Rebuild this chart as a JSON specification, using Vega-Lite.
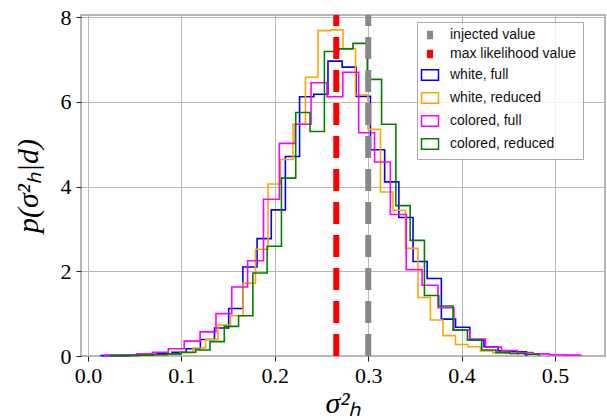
{
  "$schema": "https://vega.github.io/schema/vega-lite/v6.json",
  "width": 524,
  "height": 341,
  "autosize": {"type": "none"},
  "padding": {"left": 81, "top": 15, "right": 2, "bottom": 63},
  "background": "white",
  "datasets": {
    "hist": [
      {"s":"white, full","i":0,"x":0.0140,"y":0},
      {"s":"white, full","i":1,"x":0.0140,"y":0.01},
      {"s":"white, full","i":2,"x":0.0292,"y":0.01},
      {"s":"white, full","i":3,"x":0.0444,"y":0.02},
      {"s":"white, full","i":4,"x":0.0595,"y":0.04},
      {"s":"white, full","i":5,"x":0.0747,"y":0.05},
      {"s":"white, full","i":6,"x":0.0899,"y":0.09},
      {"s":"white, full","i":7,"x":0.1051,"y":0.17},
      {"s":"white, full","i":8,"x":0.1203,"y":0.39},
      {"s":"white, full","i":9,"x":0.1354,"y":0.66},
      {"s":"white, full","i":10,"x":0.1506,"y":1.12},
      {"s":"white, full","i":11,"x":0.1658,"y":2.10},
      {"s":"white, full","i":12,"x":0.1810,"y":2.77},
      {"s":"white, full","i":13,"x":0.1962,"y":3.45},
      {"s":"white, full","i":14,"x":0.2113,"y":4.71},
      {"s":"white, full","i":15,"x":0.2265,"y":6.12},
      {"s":"white, full","i":16,"x":0.2417,"y":6.18},
      {"s":"white, full","i":17,"x":0.2569,"y":6.96},
      {"s":"white, full","i":18,"x":0.2721,"y":6.82},
      {"s":"white, full","i":19,"x":0.2872,"y":6.13},
      {"s":"white, full","i":20,"x":0.3024,"y":4.87},
      {"s":"white, full","i":21,"x":0.3176,"y":4.11},
      {"s":"white, full","i":22,"x":0.3328,"y":3.27},
      {"s":"white, full","i":23,"x":0.3480,"y":2.23},
      {"s":"white, full","i":24,"x":0.3631,"y":1.83},
      {"s":"white, full","i":25,"x":0.3783,"y":0.87},
      {"s":"white, full","i":26,"x":0.3935,"y":0.68},
      {"s":"white, full","i":27,"x":0.4087,"y":0.38},
      {"s":"white, full","i":28,"x":0.4239,"y":0.22},
      {"s":"white, full","i":29,"x":0.4390,"y":0.12},
      {"s":"white, full","i":30,"x":0.4542,"y":0.10},
      {"s":"white, full","i":31,"x":0.4694,"y":0},
      {"s":"white, reduced","i":0,"x":0.0589,"y":0},
      {"s":"white, reduced","i":1,"x":0.0589,"y":0.02},
      {"s":"white, reduced","i":2,"x":0.0723,"y":0.02},
      {"s":"white, reduced","i":3,"x":0.0857,"y":0.04},
      {"s":"white, reduced","i":4,"x":0.0990,"y":0.08},
      {"s":"white, reduced","i":5,"x":0.1124,"y":0.19},
      {"s":"white, reduced","i":6,"x":0.1258,"y":0.39},
      {"s":"white, reduced","i":7,"x":0.1392,"y":0.73},
      {"s":"white, reduced","i":8,"x":0.1526,"y":0.95},
      {"s":"white, reduced","i":9,"x":0.1659,"y":1.72},
      {"s":"white, reduced","i":10,"x":0.1793,"y":2.52},
      {"s":"white, reduced","i":11,"x":0.1927,"y":4.06},
      {"s":"white, reduced","i":12,"x":0.2061,"y":4.64},
      {"s":"white, reduced","i":13,"x":0.2195,"y":5.47},
      {"s":"white, reduced","i":14,"x":0.2328,"y":6.58},
      {"s":"white, reduced","i":15,"x":0.2462,"y":7.68},
      {"s":"white, reduced","i":16,"x":0.2596,"y":7.70},
      {"s":"white, reduced","i":17,"x":0.2730,"y":7.26},
      {"s":"white, reduced","i":18,"x":0.2864,"y":6.16},
      {"s":"white, reduced","i":19,"x":0.2997,"y":5.35},
      {"s":"white, reduced","i":20,"x":0.3131,"y":3.87},
      {"s":"white, reduced","i":21,"x":0.3265,"y":3.44},
      {"s":"white, reduced","i":22,"x":0.3399,"y":2.54},
      {"s":"white, reduced","i":23,"x":0.3533,"y":1.38},
      {"s":"white, reduced","i":24,"x":0.3666,"y":0.85},
      {"s":"white, reduced","i":25,"x":0.3800,"y":0.48},
      {"s":"white, reduced","i":26,"x":0.3934,"y":0.27},
      {"s":"white, reduced","i":27,"x":0.4068,"y":0.22},
      {"s":"white, reduced","i":28,"x":0.4202,"y":0.12},
      {"s":"white, reduced","i":29,"x":0.4335,"y":0.08},
      {"s":"white, reduced","i":30,"x":0.4469,"y":0.06},
      {"s":"white, reduced","i":31,"x":0.4603,"y":0},
      {"s":"colored, full","i":0,"x":0.0181,"y":0},
      {"s":"colored, full","i":1,"x":0.0181,"y":0.02},
      {"s":"colored, full","i":2,"x":0.0351,"y":0.03},
      {"s":"colored, full","i":3,"x":0.0521,"y":0.05},
      {"s":"colored, full","i":4,"x":0.0690,"y":0.09},
      {"s":"colored, full","i":5,"x":0.0860,"y":0.17},
      {"s":"colored, full","i":6,"x":0.1030,"y":0.35},
      {"s":"colored, full","i":7,"x":0.1200,"y":0.57},
      {"s":"colored, full","i":8,"x":0.1370,"y":1.00},
      {"s":"colored, full","i":9,"x":0.1539,"y":1.63},
      {"s":"colored, full","i":10,"x":0.1709,"y":2.25},
      {"s":"colored, full","i":11,"x":0.1879,"y":3.70},
      {"s":"colored, full","i":12,"x":0.2049,"y":5.02},
      {"s":"colored, full","i":13,"x":0.2219,"y":5.47},
      {"s":"colored, full","i":14,"x":0.2388,"y":6.45},
      {"s":"colored, full","i":15,"x":0.2558,"y":6.12},
      {"s":"colored, full","i":16,"x":0.2728,"y":6.70},
      {"s":"colored, full","i":17,"x":0.2898,"y":5.27},
      {"s":"colored, full","i":18,"x":0.3068,"y":4.58},
      {"s":"colored, full","i":19,"x":0.3237,"y":3.34},
      {"s":"colored, full","i":20,"x":0.3407,"y":2.04},
      {"s":"colored, full","i":21,"x":0.3577,"y":1.67},
      {"s":"colored, full","i":22,"x":0.3747,"y":1.14},
      {"s":"colored, full","i":23,"x":0.3917,"y":0.61},
      {"s":"colored, full","i":24,"x":0.4086,"y":0.40},
      {"s":"colored, full","i":25,"x":0.4256,"y":0.21},
      {"s":"colored, full","i":26,"x":0.4426,"y":0.13},
      {"s":"colored, full","i":27,"x":0.4596,"y":0.08},
      {"s":"colored, full","i":28,"x":0.4766,"y":0.05},
      {"s":"colored, full","i":29,"x":0.4935,"y":0.03},
      {"s":"colored, full","i":30,"x":0.5105,"y":0.02},
      {"s":"colored, full","i":31,"x":0.5275,"y":0},
      {"s":"colored, reduced","i":0,"x":0.0234,"y":0},
      {"s":"colored, reduced","i":1,"x":0.0234,"y":0.01},
      {"s":"colored, reduced","i":2,"x":0.0387,"y":0.01},
      {"s":"colored, reduced","i":3,"x":0.0540,"y":0.02},
      {"s":"colored, reduced","i":4,"x":0.0693,"y":0.03},
      {"s":"colored, reduced","i":5,"x":0.0846,"y":0.05},
      {"s":"colored, reduced","i":6,"x":0.1000,"y":0.09},
      {"s":"colored, reduced","i":7,"x":0.1153,"y":0.14},
      {"s":"colored, reduced","i":8,"x":0.1306,"y":0.34},
      {"s":"colored, reduced","i":9,"x":0.1459,"y":0.70},
      {"s":"colored, reduced","i":10,"x":0.1612,"y":0.95},
      {"s":"colored, reduced","i":11,"x":0.1765,"y":1.96},
      {"s":"colored, reduced","i":12,"x":0.1918,"y":2.59},
      {"s":"colored, reduced","i":13,"x":0.2071,"y":4.20},
      {"s":"colored, reduced","i":14,"x":0.2224,"y":5.75},
      {"s":"colored, reduced","i":15,"x":0.2377,"y":5.30},
      {"s":"colored, reduced","i":16,"x":0.2531,"y":7.19},
      {"s":"colored, reduced","i":17,"x":0.2684,"y":7.25},
      {"s":"colored, reduced","i":18,"x":0.2837,"y":7.38},
      {"s":"colored, reduced","i":19,"x":0.2990,"y":6.53},
      {"s":"colored, reduced","i":20,"x":0.3143,"y":5.47},
      {"s":"colored, reduced","i":21,"x":0.3296,"y":3.55},
      {"s":"colored, reduced","i":22,"x":0.3449,"y":2.73},
      {"s":"colored, reduced","i":23,"x":0.3602,"y":1.43},
      {"s":"colored, reduced","i":24,"x":0.3755,"y":1.18},
      {"s":"colored, reduced","i":25,"x":0.3908,"y":0.61},
      {"s":"colored, reduced","i":26,"x":0.4062,"y":0.38},
      {"s":"colored, reduced","i":27,"x":0.4215,"y":0.14},
      {"s":"colored, reduced","i":28,"x":0.4368,"y":0.08},
      {"s":"colored, reduced","i":29,"x":0.4521,"y":0.06},
      {"s":"colored, reduced","i":30,"x":0.4674,"y":0.04},
      {"s":"colored, reduced","i":31,"x":0.4827,"y":0}
    ],
    "vlines": [
      {"s":"injected value","x":0.3},
      {"s":"max likelihood value","x":0.2658}
    ]
  },
  "layer": [
    {
      "data": {"name": "hist"},
      "mark": {"type": "line", "interpolate": "step-after", "strokeWidth": 1.6},
      "encoding": {
        "x": {
          "field": "x", "type": "quantitative",
          "scale": {"domain": [-0.0075, 0.5535], "nice": false, "zero": false},
          "axis": {"title": "σ²ₕ", "values": [0, 0.1, 0.2, 0.3, 0.4, 0.5], "format": ".1f", "labelPadding": 4, "titlePadding": 2}
        },
        "y": {
          "field": "y", "type": "quantitative",
          "scale": {"domain": [0, 8.05], "nice": false},
          "axis": {"title": "p(σ²ₕ|d)", "values": [0, 2, 4, 6, 8], "format": "d", "labelPadding": 5, "titlePadding": 17}
        },
        "order": {"field": "i", "type": "quantitative"},
        "detail": {"field": "s", "type": "nominal"},
        "color": {
          "field": "s", "type": "nominal",
          "scale": {
            "domain": ["injected value", "max likelihood value", "white, full", "white, reduced", "colored, full", "colored, reduced"],
            "range": ["#888888", "#ff0000", "#0000ff", "#ffa500", "#ff00ff", "#008000"]
          },
          "legend": {
            "title": null,
            "orient": "none",
            "legendX": 336,
            "legendY": 7,
            "padding": 6,
            "fillColor": "rgba(255,255,255,0.8)",
            "strokeColor": "#aaaaaa",
            "symbolSize": 289,
            "symbolStrokeWidth": 1.5,
            "labelOffset": 13,
            "rowPadding": 5,
            "labelFont": "Liberation Sans",
            "labelFontSize": 14,
            "labelColor": "#111111",
            "encode": {
              "symbols": {
                "update": {
                  "shape": {"signal": "datum.value == 'injected value' || datum.value == 'max likelihood value' ? 'M-0.36,-0.5H0.36V0.5H-0.36Z' : 'M-1,-0.62H1V0.62H-1Z'"},
                  "fill": {"signal": "datum.value == 'injected value' ? '#888888' : datum.value == 'max likelihood value' ? '#ff0000' : 'transparent'"},
                  "strokeWidth": {"signal": "datum.value == 'injected value' || datum.value == 'max likelihood value' ? 0 : 1.5"},
                  "strokeDash": {"value": []},
                  "opacity": {"value": 1}
                }
              }
            }
          }
        }
      }
    },
    {
      "data": {"name": "vlines"},
      "mark": {"type": "rule", "strokeWidth": 6, "strokeDash": [22, 11]},
      "encoding": {
        "x": {"field": "x", "type": "quantitative"},
        "y": {"datum": 0, "type": "quantitative"},
        "y2": {"datum": 8.05},
        "color": {
          "field": "s", "type": "nominal",
          "scale": {
            "domain": ["injected value", "max likelihood value", "white, full", "white, reduced", "colored, full", "colored, reduced"],
            "range": ["#888888", "#ff0000", "#0000ff", "#ffa500", "#ff00ff", "#008000"]
          }
        }
      }
    }
  ],
  "resolve": {"scale": {"color": "shared"}},
  "config": {
    "view": {"stroke": "#a0a0a0", "strokeWidth": 1.5},
    "axis": {
      "domain": false,
      "grid": true,
      "gridColor": "#b8b8b8",
      "gridWidth": 1,
      "tickColor": "#222222",
      "tickSize": 5,
      "tickWidth": 1,
      "labelFont": "Liberation Serif",
      "labelFontSize": 22,
      "labelColor": "#000000",
      "titleFont": "Liberation Serif",
      "titleFontSize": 30,
      "titleFontStyle": "italic",
      "titleFontWeight": "normal",
      "titleColor": "#000000"
    }
  }
}
